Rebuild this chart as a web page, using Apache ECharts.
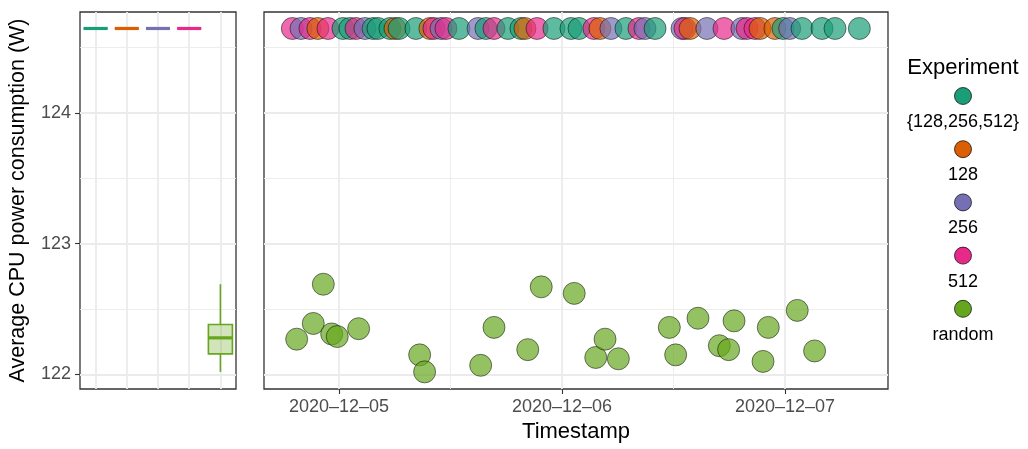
<!DOCTYPE html>
<html>
<head>
<meta charset="utf-8">
<script src="https://cdn.jsdelivr.net/npm/echarts@6/dist/echarts.min.js"></script>
<style>
  html, body { margin: 0; padding: 0; background: #fff; }
  #chart { width: 1028px; height: 449px; }
</style>
</head>
<body>
<div id="chart"></div>
<script>
var experiments = ['{128,256,512}', '128', '256', '512', 'random'];
var palette = ['#1B9E77', '#D95F02', '#7570B3', '#E7298A', '#66A61E'];

// [timestamp, average CPU power (W)]
var runsAll = [
    ['2020-12-05 00:26', 124.645], ['2020-12-05 01:11', 124.645], ['2020-12-05 03:40', 124.645],
    ['2020-12-05 04:12', 124.645], ['2020-12-05 05:29', 124.645], ['2020-12-05 06:28', 124.645],
    ['2020-12-05 08:17', 124.645], ['2020-12-05 12:55', 124.645], ['2020-12-05 15:49', 124.645],
    ['2020-12-05 18:11', 124.645], ['2020-12-05 19:35', 124.645], ['2020-12-05 23:08', 124.645],
    ['2020-12-06 00:58', 124.645], ['2020-12-06 01:50', 124.645], ['2020-12-06 06:53', 124.645],
    ['2020-12-06 10:01', 124.645], ['2020-12-06 23:47', 124.645], ['2020-12-07 01:50', 124.645],
    ['2020-12-07 03:59', 124.645], ['2020-12-07 05:23', 124.645], ['2020-12-07 08:00', 124.645]
];
var runs128 = [
    ['2020-12-04 21:44', 124.645], ['2020-12-05 06:02', 124.645], ['2020-12-05 09:47', 124.645],
    ['2020-12-05 20:01', 124.645], ['2020-12-06 04:05', 124.645], ['2020-12-06 13:47', 124.645],
    ['2020-12-06 21:19', 124.645], ['2020-12-06 22:55', 124.645]
];
var runs256 = [
    ['2020-12-04 19:55', 124.645], ['2020-12-05 02:48', 124.645], ['2020-12-05 10:59', 124.645],
    ['2020-12-05 14:58', 124.645], ['2020-12-06 05:16', 124.645], ['2020-12-06 08:56', 124.645],
    ['2020-12-06 12:55', 124.645], ['2020-12-06 15:36', 124.645], ['2020-12-06 19:22', 124.645],
    ['2020-12-07 00:30', 124.645]
];
var runs512 = [
    ['2020-12-04 18:59', 124.645], ['2020-12-04 20:53', 124.645], ['2020-12-04 22:49', 124.645],
    ['2020-12-05 01:50', 124.645], ['2020-12-05 10:13', 124.645], ['2020-12-05 11:31', 124.645],
    ['2020-12-05 16:41', 124.645], ['2020-12-05 21:19', 124.645], ['2020-12-06 03:26', 124.645],
    ['2020-12-06 08:17', 124.645], ['2020-12-06 13:14', 124.645], ['2020-12-06 17:26', 124.645],
    ['2020-12-06 19:55', 124.645], ['2020-12-06 20:46', 124.645]
];
var runsRandom = [
    ['2020-12-04 19:27', 122.27], ['2020-12-04 21:14', 122.39], ['2020-12-04 22:19', 122.69],
    ['2020-12-04 23:13', 122.31], ['2020-12-04 23:49', 122.29], ['2020-12-05 02:07', 122.35],
    ['2020-12-05 08:41', 122.15], ['2020-12-05 09:13', 122.02], ['2020-12-05 15:15', 122.07],
    ['2020-12-05 16:41', 122.36], ['2020-12-05 20:19', 122.19], ['2020-12-05 21:46', 122.67],
    ['2020-12-06 01:19', 122.62], ['2020-12-06 03:38', 122.13], ['2020-12-06 04:38', 122.27],
    ['2020-12-06 06:04', 122.12], ['2020-12-06 11:33', 122.36], ['2020-12-06 12:14', 122.15],
    ['2020-12-06 14:38', 122.43], ['2020-12-06 16:56', 122.22], ['2020-12-06 17:56', 122.19],
    ['2020-12-06 18:31', 122.41], ['2020-12-06 21:38', 122.10], ['2020-12-06 22:12', 122.36],
    ['2020-12-07 01:19', 122.49], ['2020-12-07 03:11', 122.18]
];
var runsByExperiment = [runsAll, runs128, runs256, runs512, runsRandom];

var yRange = [121.889, 124.771];
var yTicks = [122, 123, 124];
var yMinor = [122.5, 123.5, 124.5];
var xRange = ['2020-12-04 15:56', '2020-12-07 11:05'];
var xTicks = ['2020-12-05 00:00', '2020-12-06 00:00', '2020-12-07 00:00'];
var xMinor = ['2020-12-05 12:00', '2020-12-06 12:00'];

var FONT = '"Liberation Sans", Arial, sans-serif';

function ts(s) {
    var p = s.split(/[- :]/);
    return new Date(+p[0], p[1] - 1, +p[2], +(p[3] || 0), +(p[4] || 0)).getTime();
}
function pad(n) { return n < 10 ? '0' + n : '' + n; }
function withAlpha(hex, a) {
    var n = parseInt(hex.slice(1), 16);
    return 'rgba(' + (n >> 16) + ',' + ((n >> 8) & 255) + ',' + (n & 255) + ',' + a + ')';
}

// R type-7 quantile
function quantile(sorted, p) {
    var h = (sorted.length - 1) * p, lo = Math.floor(h);
    var next = sorted[Math.min(lo + 1, sorted.length - 1)];
    return sorted[lo] + (h - lo) * (next - sorted[lo]);
}
function boxStats(values) {
    var s = values.slice().sort(function (a, b) { return a - b; });
    var q1 = quantile(s, 0.25), med = quantile(s, 0.5), q3 = quantile(s, 0.75);
    var iqr = q3 - q1;
    var inside = s.filter(function (v) { return v >= q1 - 1.5 * iqr && v <= q3 + 1.5 * iqr; });
    return [inside[0], q1, med, q3, inside[inside.length - 1]];
}

// [category index, lower whisker, q1, median, q3, upper whisker]
var boxRows = runsByExperiment.map(function (rows, k) {
    return [k].concat(boxStats(rows.map(function (r) { return r[1]; })));
});

// all points, drawn in time order like the source
var points = [];
runsByExperiment.forEach(function (rows, k) {
    rows.forEach(function (r) {
        points.push({ value: [ts(r[0]), r[1]], itemStyle: { color: palette[k] } });
    });
});
points.sort(function (a, b) { return a.value[0] - b.value[0]; });

var major = { color: '#EBEBEB', width: 1.8, type: 'solid' };
var minor = { color: '#EBEBEB', width: 0.9, type: 'solid' };

function hLines() {
    return yTicks.map(function (v) { return { yAxis: v, lineStyle: major }; })
        .concat(yMinor.map(function (v) { return { yAxis: v, lineStyle: minor }; }));
}

// ggplot-style box: no whisker caps, thick median
function renderBox(params, api) {
    var k = api.value(0);
    var color = palette[k];
    var x = api.coord([k, api.value(3)])[0];
    var half = api.size([1, 0])[0] * 0.385;
    var y = [1, 2, 3, 4, 5].map(function (d) { return api.coord([k, api.value(d)])[1]; });
    var thin = { stroke: color, lineWidth: 1.6 };
    return {
        type: 'group',
        children: [
            { type: 'line', shape: { x1: x, y1: y[0], x2: x, y2: y[1] }, style: thin },
            { type: 'line', shape: { x1: x, y1: y[3], x2: x, y2: y[4] }, style: thin },
            {
                type: 'rect',
                shape: { x: x - half, y: y[3], width: half * 2, height: y[1] - y[3] },
                style: { fill: withAlpha(color, 0.3), stroke: color, lineWidth: 1.6 }
            },
            { type: 'line', shape: { x1: x - half, y1: y[2], x2: x + half, y2: y[2] }, style: { stroke: color, lineWidth: 3.2 } }
        ]
    };
}

var legendGraphic = [{
    type: 'text', x: 963, y: 68,
    style: { text: 'Experiment', font: '22px ' + FONT, fill: '#000', align: 'center', verticalAlign: 'middle', textAlign: 'center', textVerticalAlign: 'middle' }
}];
experiments.forEach(function (name, i) {
    legendGraphic.push({
        type: 'circle', x: 963, y: 96 + 53.2 * i,
        shape: { cx: 0, cy: 0, r: 8.5 },
        style: { fill: palette[i], stroke: '#000', lineWidth: 0.7 }
    });
    legendGraphic.push({
        type: 'text', x: 963, y: 122 + 53.2 * i,
        style: { text: name, font: '18px ' + FONT, fill: '#000', align: 'center', verticalAlign: 'middle', textAlign: 'center', textVerticalAlign: 'middle' }
    });
});

var chart = echarts.init(document.getElementById('chart'));

var option = {
    animation: false,
    backgroundColor: '#fff',
    textStyle: { fontFamily: FONT },
    grid: [
        { left: 80, top: 12, width: 156, height: 377, show: true, borderColor: '#333', borderWidth: 1.3, backgroundColor: 'transparent' },
        { left: 264, top: 12, width: 624, height: 377, show: true, borderColor: '#333', borderWidth: 1.3, backgroundColor: 'transparent' }
    ],
    xAxis: [
        {
            type: 'category', gridIndex: 0, data: experiments, boundaryGap: true,
            axisLine: { show: false }, axisTick: { show: false }, axisLabel: { show: false }, splitLine: { show: false }
        },
        {
            // timestamps on a plain value axis so the ticks can sit on the day boundaries
            type: 'value', gridIndex: 1, min: ts(xRange[0]), max: ts(xRange[1]),
            name: 'Timestamp', nameLocation: 'middle', nameGap: 31,
            nameTextStyle: { fontSize: 22, color: '#000', fontFamily: FONT },
            axisLine: { show: false },
            axisTick: { show: true, length: 5, customValues: xTicks.map(ts), lineStyle: { color: '#333', width: 1.1 } },
            axisLabel: {
                customValues: xTicks.map(ts), fontSize: 18, color: '#4D4D4D', margin: 9, fontFamily: FONT,
                formatter: function (v) {
                    var d = new Date(v);
                    return d.getFullYear() + '\u2013' + pad(d.getMonth() + 1) + '\u2013' + pad(d.getDate());
                }
            },
            splitLine: { show: false }
        }
    ],
    yAxis: [
        {
            type: 'value', gridIndex: 0, min: yRange[0], max: yRange[1],
            name: 'Average CPU power consumption (W)', nameLocation: 'middle', nameGap: 51,
            nameTextStyle: { fontSize: 21.5, color: '#000', fontFamily: FONT },
            axisLine: { show: false },
            axisTick: { show: true, length: 5, customValues: yTicks, lineStyle: { color: '#333', width: 1.1 } },
            axisLabel: { customValues: yTicks, fontSize: 18, color: '#4D4D4D', margin: 9, fontFamily: FONT },
            splitLine: { show: false }
        },
        {
            type: 'value', gridIndex: 1, min: yRange[0], max: yRange[1],
            axisLine: { show: false }, axisTick: { show: false }, axisLabel: { show: false }, splitLine: { show: false }
        }
    ],
    graphic: legendGraphic,
    series: [
        {
            type: 'scatter', xAxisIndex: 0, yAxisIndex: 0, data: [], z: 1, silent: true,
            markLine: {
                z: 1, silent: true, symbol: ['none', 'none'], label: { show: false }, animation: false,
                data: hLines().concat(experiments.map(function (c) { return { xAxis: c, lineStyle: major }; }))
            }
        },
        {
            type: 'scatter', xAxisIndex: 1, yAxisIndex: 1, data: [], z: 1, silent: true,
            markLine: {
                z: 1, silent: true, symbol: ['none', 'none'], label: { show: false }, animation: false,
                data: hLines()
                    .concat(xTicks.map(function (t) { return { xAxis: ts(t), lineStyle: major }; }))
                    .concat(xMinor.map(function (t) { return { xAxis: ts(t), lineStyle: minor }; }))
            }
        },
        {
            type: 'custom', xAxisIndex: 0, yAxisIndex: 0, z: 3,
            renderItem: renderBox,
            data: boxRows
        },
        {
            type: 'scatter', xAxisIndex: 1, yAxisIndex: 1, z: 3,
            symbolSize: 22,
            itemStyle: { opacity: 0.7, borderColor: '#000', borderWidth: 0.7 },
            data: points
        }
    ]
};

chart.setOption(option);
</script>
</body>
</html>
